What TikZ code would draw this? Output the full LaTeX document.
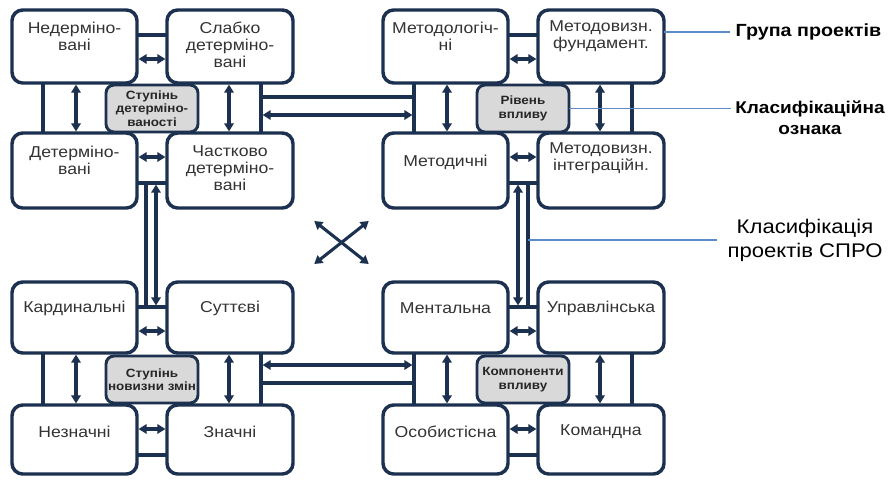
\documentclass[tikz,border=0pt]{standalone}
\usepackage{fontspec}
\setmainfont{Liberation Sans}[FakeStretch=1.12]
\usetikzlibrary{arrows.meta,calc}

\definecolor{navy}{HTML}{1C304F}
\definecolor{ink}{HTML}{333333}
\definecolor{note}{HTML}{5B8BC8}
\definecolor{panel}{HTML}{D9D9D9}

\tikzset{
  box/.style={draw=navy, line width=2.6pt, rounded corners=8pt, fill=white,
    inner sep=0pt, outer sep=0pt, minimum width=93.75pt},
  crit/.style={draw=navy, line width=2.2pt, rounded corners=6pt, fill=panel,
    inner sep=0pt, outer sep=0pt, minimum width=69pt, minimum height=35.25pt,
    align=center, text=black!85, font=\fontsize{9}{10}\selectfont\bfseries},
  txt/.style={align=center, inner sep=0pt, text=ink,
    font=\fontsize{11.8}{12.9}\selectfont},
  plain/.style={draw=navy, line width=2.3pt},
  dbl/.style={draw=navy, line width=2.3pt, shorten <=1.2pt, shorten >=1.2pt,
    {Triangle[length=6pt,width=7pt]}-{Triangle[length=6pt,width=7pt]}},
  noteline/.style={draw=note, line width=0.8pt},
  side/.style={align=center, inner sep=0pt, text=black},
}

% the eight links inside one group of four boxes (tl, tr, bl, br)
\newcommand\innerlinks[4]{%
  \draw[plain] ($(#1.south west)+(31,0)$) -- ($(#3.north west)+(31,0)$);
  \draw[dbl]   ($(#1.south west)+(64,0)$) -- ($(#3.north west)+(64,0)$);
  \draw[dbl]   ($(#2.south west)+(62,0)$) -- ($(#4.north west)+(62,0)$);
  \draw[plain] ($(#2.south west)+(94,0)$) -- ($(#4.north west)+(94,0)$);
  \draw[plain] ($(#1.north east)+(0,25)$) -- ($(#2.north west)+(0,25)$);
  \draw[dbl]   ($(#1.north east)+(0,49)$) -- ($(#2.north west)+(0,49)$);
  \draw[dbl]   ($(#3.north east)+(0,24)$) -- ($(#4.north west)+(0,24)$);
  \draw[plain] ($(#3.north east)+(0,50)$) -- ($(#4.north west)+(0,50)$);
}

\begin{document}
\begin{tikzpicture}[x=0.75pt, y=-0.75pt]
\fill[white] (0,0) rectangle (888,479);
\useasboundingbox (0,0) rectangle (888,479);

% ---- degree of determinacy
\node[box, minimum height=54.75pt] (ndm) at (74.5,46.5) {};
\node[box, minimum height=54.75pt, minimum width=94.5pt] (slb) at (230,46.5) {};
\node[box, minimum height=56.25pt] (dtm) at (74.5,170.5) {};
\node[box, minimum height=56.25pt, minimum width=94.5pt] (chs) at (230,170.5) {};
\node[crit] (sd) at (152,108.5) {Ступінь\\детерміно-\\ваності};
\node[txt] (ndmt) at ($(ndm.north)+(0,26)$) {Недерміно-\\вані};
\node[txt] (slbt) at ($(slb.north)+(0,35)$) {Слабко\\детерміно-\\вані};
\node[txt] (dtmt) at ($(dtm.north)+(0,27)$) {Детерміно-\\вані};
\node[txt] (chst) at ($(chs.north)+(0,35)$) {Частково\\детерміно-\\вані};

% ---- level of influence
\node[box, minimum height=54.75pt] (mtl) at (445.5,46.5) {};
\node[box, minimum height=54.75pt, minimum width=94.5pt] (mfd) at (601,46.5) {};
\node[box, minimum height=56.25pt] (mtd) at (445.5,170.5) {};
\node[box, minimum height=56.25pt, minimum width=94.5pt] (mint) at (601,170.5) {};
\node[crit] (rv) at (523,108.5) {Рівень\\впливу};
\node[txt] (mtlt) at ($(mtl.north)+(0,26)$) {Методологіч-\\ні};
\node[txt] (mfdt) at ($(mfd.north)+(0,26)$) {Методовизн.\\фундамент.};
\node[txt] (mtdt) at ($(mtd.north)+(0,29)$) {Методичні};
\node[txt] (mintt) at ($(mint.north)+(0,25)$) {Методовизн.\\інтеграційн.};

% ---- degree of novelty of change
\node[box, minimum height=53.25pt] (krd) at (74.5,317.5) {};
\node[box, minimum height=53.25pt, minimum width=94.5pt] (sut) at (230,317.5) {};
\node[box, minimum height=51.75pt] (nez) at (74.5,439.5) {};
\node[box, minimum height=51.75pt, minimum width=94.5pt] (zna) at (230,439.5) {};
\node[crit] (nz) at (152,379.5) {Ступінь\\новизни змін};
\node[txt] (krdt) at ($(krd.north)+(0,26)$) {Кардинальні};
\node[txt] (sutt) at ($(sut.north)+(0,26)$) {Суттєві};
\node[txt] (nezt) at ($(nez.north)+(0,27)$) {Незначні};
\node[txt] (znat) at ($(zna.north)+(0,27)$) {Значні};

% ---- components of influence
\node[box, minimum height=53.25pt] (men) at (445.5,317.5) {};
\node[box, minimum height=53.25pt, minimum width=94.5pt] (upr) at (601,317.5) {};
\node[box, minimum height=51.75pt] (oso) at (445.5,439.5) {};
\node[box, minimum height=51.75pt, minimum width=94.5pt] (kom) at (601,439.5) {};
\node[crit] (kv) at (523,379.5) {Компоненти\\впливу};
\node[txt] (ment) at ($(men.north)+(0,26)$) {Ментальна};
\node[txt] (uprt) at ($(upr.north)+(0,26)$) {Управлінська};
\node[txt] (osot) at ($(oso.north)+(0,27)$) {Особистісна};
\node[txt] (komt) at ($(kom.north)+(0,27)$) {Командна};

% ---- links inside each group
\innerlinks{ndm}{slb}{dtm}{chs}
\innerlinks{mtl}{mfd}{mtd}{mint}
\innerlinks{krd}{sut}{nez}{zna}
\innerlinks{men}{upr}{oso}{kom}

% ---- links between groups
\draw[plain] ($(slb.south west)+(94,14)$) -- ($(mtl.south west)+(31,14)$);
\draw[dbl]   ($(slb.south west)+(94,32)$) -- ($(mtl.south west)+(31,32)$);
\draw[dbl]   ($(sut.south west)+(94,12)$) -- ($(men.south west)+(31,12)$);
\draw[plain] ($(sut.south west)+(94,30)$) -- ($(men.south west)+(31,30)$);
\draw[plain] ($(dtm.north east)+(9,50)$)  -- ($(krd.north east)+(9,25)$);
\draw[dbl]   ($(dtm.north east)+(19,50)$) -- ($(krd.north east)+(19,25)$);
\draw[dbl]   ($(mtd.north east)+(10,50)$) -- ($(men.north east)+(10,25)$);
\draw[plain] ($(mtd.north east)+(20,50)$) -- ($(men.north east)+(20,25)$);

% ---- crossing arrows in the middle
\coordinate (xnw) at (313,220);
\coordinate (xse) at (370,265);
\coordinate (xne) at (370,220);
\coordinate (xsw) at (313,265);
\draw[dbl] (xnw) -- (xse);
\draw[dbl] (xne) -- (xsw);

% ---- legend on the right
\node[side, anchor=west, inner xsep=4pt, font=\fontsize{13.2}{15}\selectfont\bfseries]
  (grp) at (730,32) {Група проектів};
\draw[noteline] (grp.west -| mfd.east) -- (grp.west);

\node[side, inner xsep=3pt, font=\fontsize{12.75}{15.75}\selectfont\bfseries]
  (cls) at (810,117.5) {Класифікаційна\\ознака};
\draw[noteline] (rv.east) -- (rv.east -| cls.west);

\node[side, font=\fontsize{14.8}{18}\selectfont] (spro) at (805,240)
  {Класифікація\\проектів СПРО};
\coordinate (rframe) at ($(mtd.south east)+(20,0)$);
\draw[noteline] (rframe |- spro.west) -- ([xshift=-8pt]spro.west);
\end{tikzpicture}
\end{document}
